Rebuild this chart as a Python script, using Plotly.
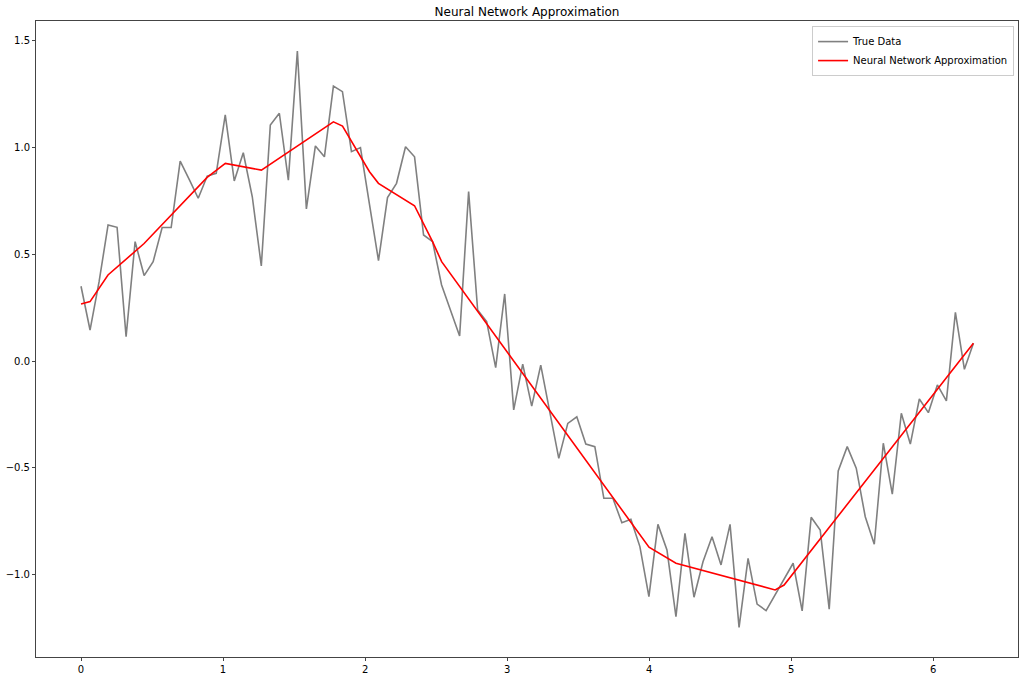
import numpy as np
import plotly.graph_objects as go

# True data: 100 samples on [0, 2*pi]
n_points = 100
true_y = [
    0.350, 0.145, 0.370, 0.637, 0.626, 0.114, 0.559, 0.400, 0.465, 0.625,
    0.625, 0.936, 0.850, 0.762, 0.866, 0.879, 1.152, 0.843, 0.975, 0.769,
    0.445, 1.105, 1.160, 0.847, 1.451, 0.712, 1.007, 0.956, 1.287, 1.261,
    0.980, 0.999, 0.733, 0.470, 0.765, 0.832, 1.003, 0.956, 0.590, 0.559,
    0.356, 0.239, 0.117, 0.793, 0.239, 0.184, -0.031, 0.314, -0.229, -0.015,
    -0.211, -0.019, -0.235, -0.456, -0.292, -0.261, -0.389, -0.401, -0.643, -0.643,
    -0.757, -0.741, -0.869, -1.103, -0.765, -0.885, -1.197, -0.807, -1.106, -0.940,
    -0.823, -0.955, -0.765, -1.247, -0.924, -1.138, -1.169, -1.096, -1.020, -0.947,
    -1.170, -0.732, -0.791, -1.162, -0.515, -0.401, -0.502, -0.729, -0.858, -0.385,
    -0.623, -0.245, -0.389, -0.178, -0.242, -0.112, -0.187, 0.228, -0.039, 0.083,
]
true_x = np.linspace(0, 2 * np.pi, n_points)

# Neural network approximation (piecewise-linear vertices)
nn_x = [0.0, 0.0635, 0.190, 0.444, 0.888, 1.016, 1.270, 1.777, 1.841, 2.031,
        2.094, 2.348, 2.475, 2.539, 3.999, 4.189, 4.887, 4.950, 6.283]
nn_y = [0.267, 0.278, 0.403, 0.550, 0.860, 0.925, 0.894, 1.120, 1.100, 0.886,
        0.832, 0.727, 0.559, 0.465, -0.872, -0.947, -1.072, -1.049, 0.083]

x_ticks = [0, 1, 2, 3, 4, 5, 6]
y_ticks = [-1.0, -0.5, 0.0, 0.5, 1.0, 1.5]
y_tick_labels = ["\u22121.0", "\u22120.5", "0.0", "0.5", "1.0", "1.5"]

FONT = "DejaVu Sans, Liberation Sans, sans-serif"

fig = go.Figure()
fig.add_trace(go.Scatter(x=true_x, y=true_y, mode="lines", name="True Data",
                         line=dict(color="#808080", width=1.6)))
fig.add_trace(go.Scatter(x=nn_x, y=nn_y, mode="lines", name="Neural Network Approximation",
                         line=dict(color="#ff0000", width=1.6)))

axis_common = dict(showgrid=False, zeroline=False, showline=True, mirror=True,
                   linecolor="#444444", linewidth=1, ticks="outside", ticklen=3,
                   tickwidth=1, tickcolor="#444444", automargin=False,
                   tickfont=dict(family=FONT, size=10, color="black"))

fig.update_layout(
    width=1024, height=680,
    paper_bgcolor="white", plot_bgcolor="white",
    margin=dict(l=36, r=6, t=21, b=23, autoexpand=False),
    title=dict(text="Neural Network Approximation", x=0.5, xanchor="center", xref="paper",
               y=1 - 12 / 680, yanchor="middle", yref="container",
               font=dict(family=FONT, size=12, color="black")),
    xaxis=dict(range=[-0.317, 6.597], tickmode="array", tickvals=x_ticks,
               **axis_common),
    yaxis=dict(range=[-1.386, 1.592], tickmode="array", tickvals=y_ticks,
               ticktext=y_tick_labels, **axis_common),
    legend=dict(x=0.996, y=0.992, xanchor="right", yanchor="top",
                bgcolor="rgba(255,255,255,0.8)", bordercolor="#cccccc", borderwidth=1,
                font=dict(family=FONT, size=10, color="black"),
                tracegroupgap=0, itemwidth=30),
    showlegend=True,
)

fig.write_html("out.html", config={"displayModeBar": False},
               post_script="document.body.style.margin='0';document.body.style.overflow='hidden';")
